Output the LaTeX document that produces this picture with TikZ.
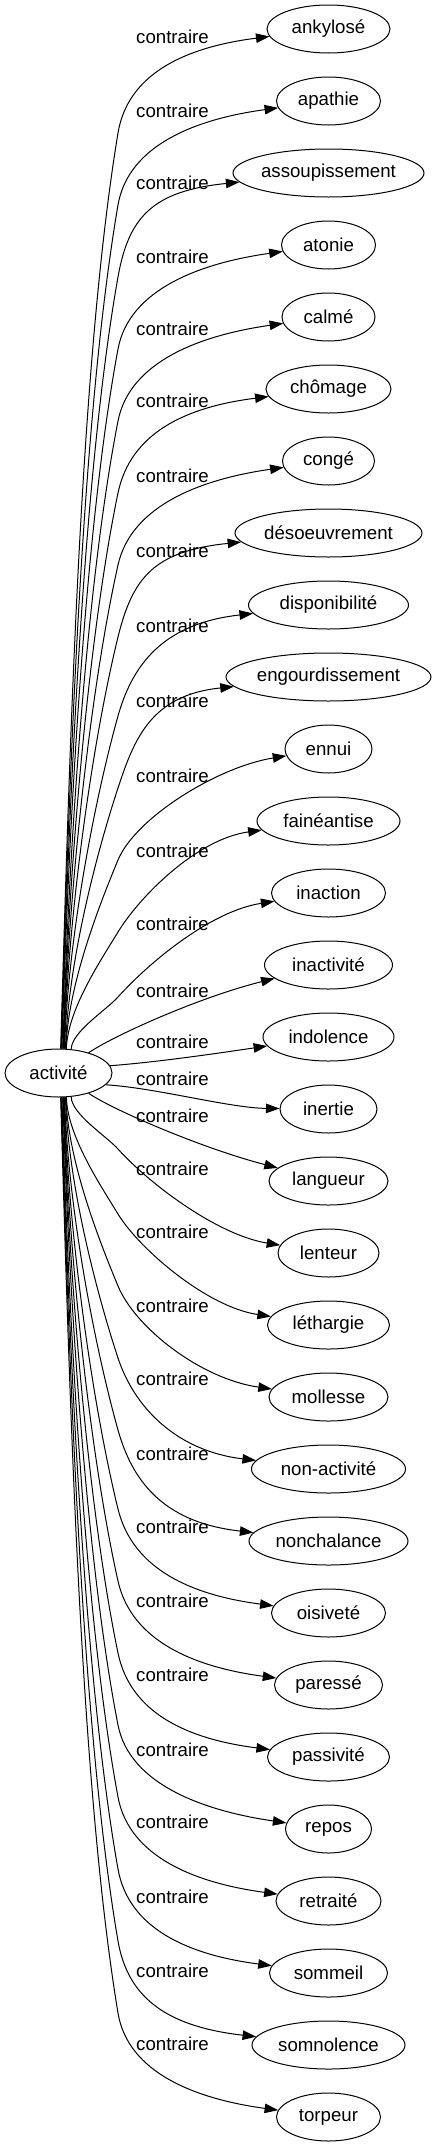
\documentclass[tikz,border=0pt]{standalone}
\usepackage{fontspec}
\setmainfont{Liberation Sans}
\usetikzlibrary{arrows.meta,shapes.geometric,calc}
\begin{document}
\begin{tikzpicture}[x=1pt,y=1pt,
  tnode/.style={draw, line width=1pt, ellipse, minimum height=48pt, inner sep=0pt, font=\fontsize{18.67}{22}\selectfont},
  lbl/.style={anchor=base west, inner sep=0pt, font=\fontsize{18.67}{22}\selectfont},
  conn/.style={line width=1pt, -{Triangle[length=13.5pt,width=9.5pt]}}]
\useasboundingbox (0,0) rectangle (436,-2147);
\node[tnode, minimum width=107pt] (act) at (58.5,-1073) {activité};
\foreach \i/\w/\txt in {0/123/ankylosé,1/104/apathie,2/191/assoupissement,3/94/atonie,4/93/calmé,5/125/chômage,6/92/congé,7/187/désoeuvrement,8/160/disponibilité,9/205/engourdissement,10/87/ennui,11/143/fainéantise,12/114/inaction,13/128/inactivité,14/131/indolence,15/97/inertie,16/119/langueur,17/101/lenteur,18/122/léthargie,19/119/mollesse,20/154/non-activité,21/159/nonchalance,22/114/oisiveté,23/108/paressé,24/122/passivité,25/86/repos,26/105/retraité,27/118/sommeil,28/153/somnolence,29/104/torpeur}{
  \node[tnode, minimum width=\w pt] (n\i) at (328.5,{-(29+72*\i)}) {\txt};
}
\foreach \i/\ly in {0/38,1/112,2/184,3/258,4/330,5/402,6/477,7/552,8/627,9/702,10/777,11/852,12/925,13/992,14/1043,15/1080,16/1117,17/1170,18/1233,19/1307,20/1380,21/1455,22/1528,23/1602,24/1676,25/1751,26/1823,27/1898,28/1972,29/2045}{
  \node[lbl] (l\i) at (136,{-(\ly+5)}) {contraire};
}
% nearest edges
\draw[conn] (act.8) .. controls +(50,4) and ($(n14.west)+(-50,-17)$) .. (n14);
\draw[conn] (act.-14) .. controls +(50,-3) and ($(n15.west)+(-50,1)$) .. (n15);
\draw[conn] (act.34) .. controls +(27,18) and ($(n13.west)+(-64,-32)$) .. (n13);
\draw[conn] (act.-34) .. controls +(27,-18) and ($(n16.west)+(-64,32)$) .. (n16);
% other edges
\foreach \k in {2,...,14}{
  \pgfmathsetmacro{\delt}{((\k>=3)&&(\k<=6))?7:0}
  \pgfmathsetmacro{\LL}{72*\k-91-\delt}
  \pgfmathsetmacro{\slope}{min(0.9,0.1+60/\LL)}
  \pgfmathsetmacro{\mthree}{max(35,min(60,35+0.1*(\LL-118)))}
  \pgfmathsetmacro{\cxx}{60+20*min(1,max(0,(\LL-118)/200))}
  \pgfmathtruncatemacro{\ang}{(\k==2)?62:round(72+1.2*(\k-3))}
  \pgfmathsetmacro{\bdist}{72*\k-68-\delt}
  \pgfmathtruncatemacro{\iu}{14-\k}
  \pgfmathtruncatemacro{\id}{15+\k}
  \draw[conn] (act.\ang) .. controls +({0.01*\LL},{0.33*\LL}) and +({-\slope*0.25*\LL},{-0.25*\LL}) .. (118,{-1073+\bdist}) .. controls +({\slope*\mthree},{\mthree}) and ($(n\iu.west)+({-\cxx},-18)$) .. (n\iu);
  \draw[conn] (act.-\ang) .. controls +({0.01*\LL},{-0.33*\LL}) and +({-\slope*0.25*\LL},{0.25*\LL}) .. (118,{-1073-\bdist}) .. controls +({\slope*\mthree},{-\mthree}) and ($(n\id.west)+({-\cxx},18)$) .. (n\id);
}
\end{tikzpicture}
\end{document}
